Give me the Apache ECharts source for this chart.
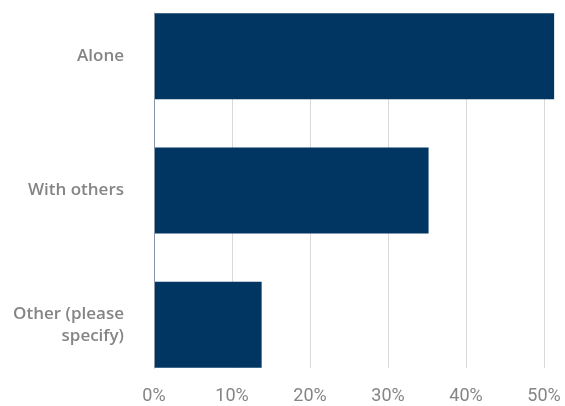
<!DOCTYPE html>
<html>
<head>
<meta charset="utf-8">
<script src="https://cdn.jsdelivr.net/npm/echarts@6/dist/echarts.min.js"></script>
<style>
  html, body { margin: 0; padding: 0; background: #ffffff; }
  #chart { width: 565px; height: 406px; }
</style>
</head>
<body>
<div id="chart"></div>
<script>
// Survey answers: share of respondents (%)
const categories = ['Alone', 'With others', 'Other (please\nspecify)'];
const shares = [51.3, 35.2, 13.8];
const tickStep = 10;
const axisMax = 60;

const labelColor = '#858585';
const barColor = '#003661';
const gridLineColor = '#d9d9d9';

const chart = echarts.init(document.getElementById('chart'));
chart.setOption({
  backgroundColor: '#ffffff',
  animation: false,
  textStyle: { fontFamily: 'Roboto' },
  grid: [
    // frame grid: gridlines, percent ticks and the baseline
    { left: 154, width: 468, top: 13, height: 355, outerBoundsMode: 'none' },
    // bar grid: category bands span slightly beyond the frame
    { left: 154, width: 468, top: -11, height: 403, outerBoundsMode: 'none' }
  ],
  xAxis: [
    {
      type: 'value', gridIndex: 0, min: 0, max: axisMax, interval: tickStep,
      axisLine: { show: false }, axisTick: { show: false },
      splitLine: { show: true, lineStyle: { color: gridLineColor, width: 1 } },
      axisLabel: {
        formatter: '{value}%', color: labelColor, fontSize: 18, margin: 19,
        showMaxLabel: false
      }
    },
    {
      type: 'value', gridIndex: 1, min: 0, max: axisMax, interval: tickStep,
      show: false
    }
  ],
  yAxis: [
    {
      type: 'category', gridIndex: 0, data: categories, inverse: true,
      axisLine: { show: true, lineStyle: { color: '#8a97a8', width: 1 } },
      axisTick: { show: false }, axisLabel: { show: false },
      splitLine: { show: false }, z: 5
    },
    {
      type: 'category', gridIndex: 1, data: categories, inverse: true,
      axisLine: { show: false }, axisTick: { show: false },
      splitLine: { show: false },
      axisLabel: {
        color: labelColor, fontFamily: 'Open Sans', fontSize: 17, fontWeight: 600,
        margin: 30, lineHeight: 22, align: 'right', padding: [3, 0, 0, 0]
      }
    }
  ],
  series: [
    {
      type: 'bar', xAxisIndex: 1, yAxisIndex: 1,
      data: shares, barWidth: 86,
      itemStyle: { color: barColor }
    }
  ]
});
</script>
</body>
</html>
